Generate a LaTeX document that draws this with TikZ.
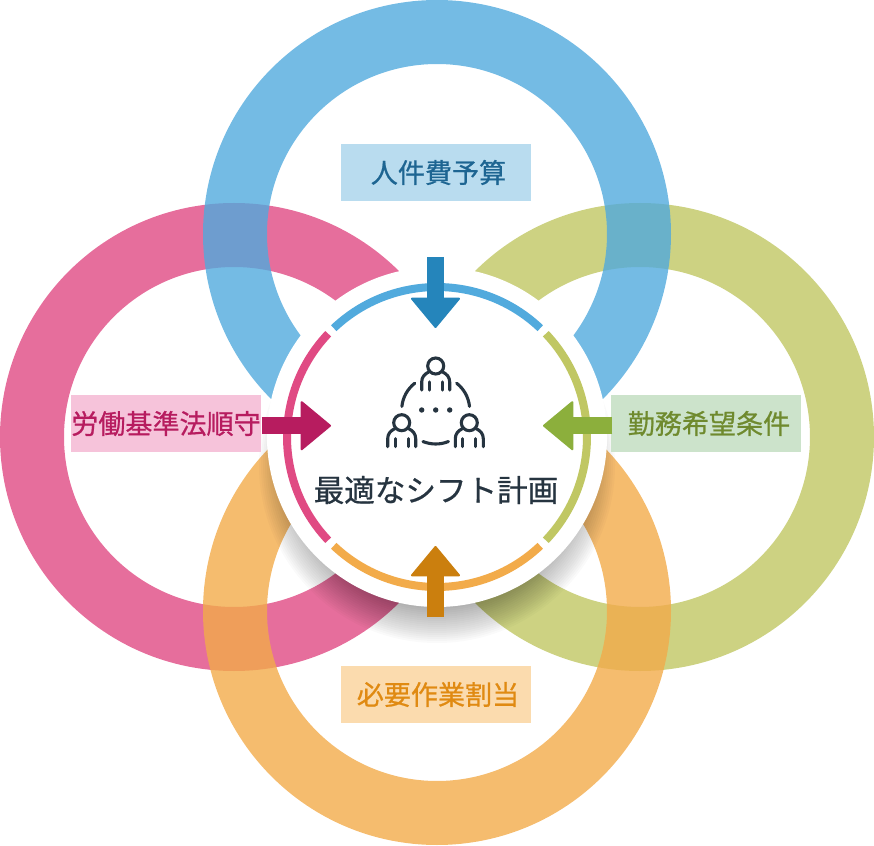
\documentclass[tikz,border=0pt]{standalone}
\usepackage{fontspec}
\setmainfont[FakeBold=0.7]{Noto Sans CJK JP}
\usetikzlibrary{arrows.meta}
\definecolor{ringblue}{HTML}{51AADD}
\definecolor{ringpink}{HTML}{E04A83}
\definecolor{ringgreen}{HTML}{C0C763}
\definecolor{ringorange}{HTML}{F2AB4A}
\definecolor{inkdark}{HTML}{263440}
\definecolor{deepblue}{HTML}{2585BB}
\definecolor{deeppink}{HTML}{B71C5F}
\definecolor{deepgreen}{HTML}{8CAF3C}
\definecolor{deeporange}{HTML}{CB7F0E}
\definecolor{textgreen}{HTML}{6F8A2E}
\definecolor{textorange}{HTML}{E08A12}
\definecolor{textblue}{HTML}{1D6592}
\definecolor{tagblue}{HTML}{B9DCEF}
\definecolor{tagpink}{HTML}{F6C3DA}
\definecolor{taggreen}{HTML}{CCE3CB}
\definecolor{tagorange}{HTML}{FBDBAE}
\tikzset{
	ring/.style={fill opacity=0.8, even odd rule},
	tag/.style={minimum width=1.9cm, minimum height=0.57cm, inner sep=0pt, font=\fontsize{7.7}{9}\selectfont},
	feed/.style={line width=0.17cm, -{Triangle[length=3.1mm,width=5.1mm,round,line width=0.6pt]}},
	band/.style={line width=0.08cm},
	icon/.style={line width=0.031cm, color=inkdark, line cap=round}
}
\def\personicon(#1,#2){
	\draw[icon] (#1, #2) circle (0.08);
	\draw[icon] (#1-0.14, #2-0.24) -- (#1-0.14, #2-0.16) .. controls (#1-0.14, #2-0.11) and (#1-0.11, #2-0.08) .. (#1-0.07, #2-0.06);
	\draw[icon] (#1+0.14, #2-0.24) -- (#1+0.14, #2-0.16) .. controls (#1+0.14, #2-0.11) and (#1+0.11, #2-0.08) .. (#1+0.07, #2-0.06);
	\draw[icon] (#1-0.065, #2-0.24) -- (#1-0.065, #2-0.16);
	\draw[icon] (#1+0.065, #2-0.24) -- (#1+0.065, #2-0.16);
}
\begin{document}
\begin{tikzpicture}
	%%%%% START %%%%%
	\useasboundingbox (0, 0) rectangle (8.74, 8.45);

	\fill[ring, color=ringpink] (2.34, 4.08) circle (2.34) (2.34, 4.08) circle (1.70);
	\fill[ring, color=ringgreen] (6.40, 4.08) circle (2.34) (6.40, 4.08) circle (1.70);
	\fill[ring, color=ringblue] (4.37, 6.11) circle (2.34) (4.37, 6.11) circle (1.70);
	\fill[ring, color=ringorange] (4.37, 2.34) circle (2.34) (4.37, 2.34) circle (1.70);

	% soft shadow under the disc
	\foreach \r in {1.42,1.44,...,1.79}
		\fill[black, opacity=0.02] (4.37, 3.80) circle (\r);

	\fill[white] (4.37, 4.08) circle (1.70);

	\draw[band, color=ringblue] ([shift={(46.5:1.5)}]4.37, 4.08) arc (46.5:133.5:1.5);
	\draw[band, color=ringpink] ([shift={(136.5:1.5)}]4.37, 4.08) arc (136.5:223.5:1.5);
	\draw[band, color=ringorange] ([shift={(226.5:1.5)}]4.37, 4.08) arc (226.5:313.5:1.5);
	\draw[band, color=ringgreen] ([shift={(316.5:1.5)}]4.37, 4.08) arc (316.5:403.5:1.5);

	\node[tag, fill=tagblue, text=textblue] (budget) at (4.36, 6.725) {\hspace*{0.05cm}人件費予算};
	\node[tag, fill=tagpink, text=deeppink] (labor) at (1.66, 4.215) {労働基準法順守};
	\node[tag, fill=taggreen, text=textgreen] (wish) at (7.06, 4.215) {\hspace*{0.06cm}勤務希望条件};
	\node[tag, fill=tagorange, text=textorange] (assign) at (4.36, 1.505) {\hspace*{0.04cm}必要作業割当};

	\coordinate (budgetend) at (4.355, 5.88);
	\coordinate (budgettip) at (4.355, 5.17);
	\coordinate (labortip) at (3.31, 4.193);
	\coordinate (wishtip) at (5.43, 4.193);
	\coordinate (assignend) at (4.355, 2.28);
	\coordinate (assigntip) at (4.355, 2.99);

	\draw[feed, color=deepblue] (budgetend) -- (budgettip);
	\draw[feed, color=deeppink] (labor.east |- labortip) -- (labortip);
	\draw[feed, color=deepgreen] ([xshift=0.02cm]wish.west |- wishtip) -- (wishtip);
	\draw[feed, color=deeporange] (assignend) -- (assigntip);

	\personicon(4.357, 4.79)
	\personicon(4.017, 4.223)
	\personicon(4.693, 4.223)
	\fill[inkdark] (4.217, 4.35) circle (0.027);
	\fill[inkdark] (4.357, 4.35) circle (0.027);
	\fill[inkdark] (4.497, 4.35) circle (0.027);
	\draw[icon] ([shift={(174:0.34)}]4.357, 4.35) arc (174:128:0.34);
	\draw[icon] ([shift={(6:0.34)}]4.357, 4.35) arc (6:52:0.34);
	\draw[icon] ([shift={(248:0.34)}]4.357, 4.35) arc (248:292:0.34);

	\node[text=inkdark, inner sep=0pt, font=\fontsize{8.7}{10}\selectfont] (plan) at (4.36, 3.55) {最適なシフト計画};
	%%%%% END %%%%%
\end{tikzpicture}
\end{document}
